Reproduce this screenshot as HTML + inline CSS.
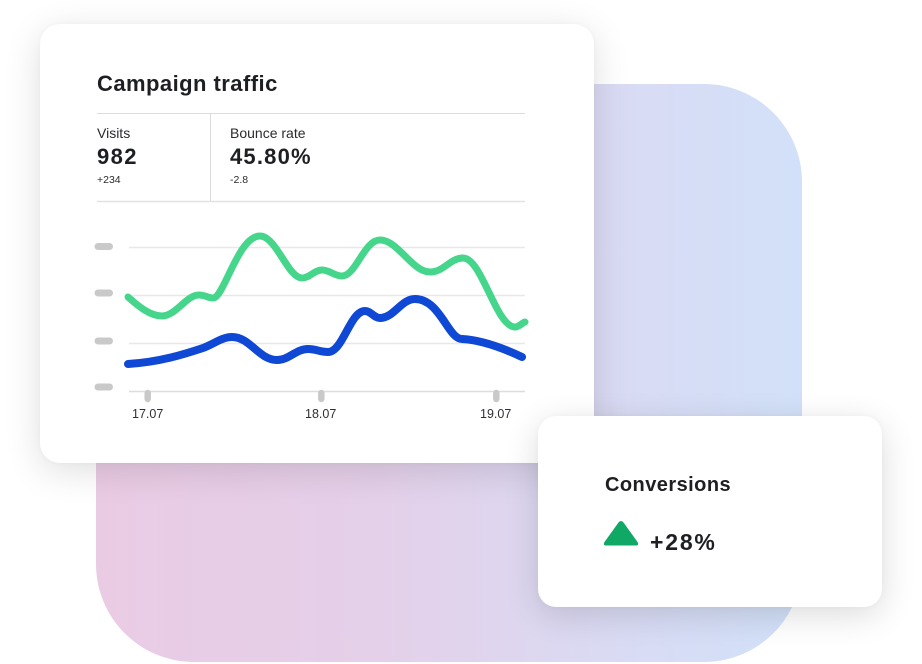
<!DOCTYPE html>
<html>
<head>
<meta charset="utf-8">
<style>
  html,body{margin:0;padding:0;}
  body{width:922px;height:664px;position:relative;overflow:hidden;background:#ffffff;font-family:"Liberation Sans",Arial,sans-serif;color:#1e1f23;}
  .bgshape{position:absolute;left:96px;top:84px;width:706px;height:578px;border-radius:98px;
    background:linear-gradient(90deg,#eacbe4 0%,#e4d0e9 40%,#d9dbf4 75%,#d2e1f9 100%);}
  .card{position:absolute;background:#fff;}
  .main{left:40px;top:24px;width:554px;height:439px;border-radius:20px;box-shadow:0 8px 36px rgba(0,0,0,0.13),0 0 6px rgba(0,0,0,0.03);}
  .conv{left:538px;top:416px;width:344px;height:191px;border-radius:18px;box-shadow:0 8px 34px rgba(0,0,0,0.14),0 0 6px rgba(0,0,0,0.03);}
  .t{position:absolute;white-space:nowrap;line-height:1;}
</style>
</head>
<body>
<div class="bgshape"></div>

<div class="card main"></div>
<div class="card conv"></div>

<!-- main card text -->
<div class="t" style="left:97px;top:73px;font-size:22px;font-weight:bold;letter-spacing:0.45px;">Campaign traffic</div>
<div class="t" style="left:97px;top:126px;font-size:14px;color:#2a2b2f;">Visits</div>
<div class="t" style="left:97px;top:146px;font-size:22px;font-weight:bold;letter-spacing:1.4px;">982</div>
<div class="t" style="left:97px;top:175px;font-size:10.5px;color:#2a2b2f;">+234</div>
<div class="t" style="left:230px;top:126px;font-size:14px;color:#2a2b2f;">Bounce rate</div>
<div class="t" style="left:230px;top:146px;font-size:22px;font-weight:bold;letter-spacing:1.2px;">45.80%</div>
<div class="t" style="left:230px;top:175px;font-size:10.5px;color:#2a2b2f;">-2.8</div>

<svg style="position:absolute;left:0;top:0" width="922" height="664" viewBox="0 0 922 664">
  <!-- dividers -->
  <line x1="97" y1="113.5" x2="525" y2="113.5" stroke="#dcdcdc" stroke-width="1"/>
  <line x1="97" y1="201.5" x2="525" y2="201.5" stroke="#e2e2e2" stroke-width="1.5"/>
  <line x1="210.5" y1="113" x2="210.5" y2="201" stroke="#dcdcdc" stroke-width="1"/>

  <!-- gridlines -->
  <line x1="129" y1="247.5" x2="525" y2="247.5" stroke="#e8e8e8" stroke-width="1.5"/>
  <line x1="129" y1="295.5" x2="525" y2="295.5" stroke="#e8e8e8" stroke-width="1.5"/>
  <line x1="129" y1="343.5" x2="525" y2="343.5" stroke="#e8e8e8" stroke-width="1.5"/>
  <line x1="129" y1="391.5" x2="525" y2="391.5" stroke="#dddddd" stroke-width="1.5"/>

  <!-- y pills -->
  <g stroke="#c9c9c9" stroke-width="7" stroke-linecap="round">
    <line x1="98" y1="246.5" x2="109.5" y2="246.5"/>
    <line x1="98" y1="293" x2="109.5" y2="293"/>
    <line x1="98" y1="341" x2="109.5" y2="341"/>
    <line x1="98" y1="387" x2="109.5" y2="387"/>
  </g>
  <!-- x tick pills -->
  <g stroke="#c9c9c9" stroke-width="6.5" stroke-linecap="round">
    <line x1="147.7" y1="393" x2="147.7" y2="399"/>
    <line x1="321.3" y1="393" x2="321.3" y2="399"/>
    <line x1="496.3" y1="393" x2="496.3" y2="399"/>
  </g>

  <!-- green series -->
  <path d="M128,297 C138,306 150,316 162,316 C176,316 186,295 199,295 C205,295 208,298 213,298 C224,298 238,236 260,236 C276,236 288,278 302,278 C310,278 314,270 322,270 C330,270 334,276 342,276 C356,276 364,240 380,240 C398,240 412,272 430,272 C444,272 450,258 463,258 C482,258 496,327 515,327 C519,327 522,323 525,322"
        fill="none" stroke="#45d68b" stroke-width="7" stroke-linecap="round" stroke-linejoin="round"/>
  <!-- blue series -->
  <path d="M128,364 C160,362 185,354 203,348 C213,344.5 222,337 232,337 C250,337 259,360 277,360 C289,360 296,349 308,349 C316,349 320,352 328,352 C343,352 350,311 365,311 C371,311 374,318 380,318 C394,318 401,299 415,299 C440,299 448,339 462,339 C482,340 505,349 522,357"
        fill="none" stroke="#0f48d4" stroke-width="8" stroke-linecap="round" stroke-linejoin="round"/>

  <!-- conversions triangle -->
  <path d="M618.5,522.5 Q621,519.5 623.5,522.5 L637.5,542 Q639.5,545.5 635.5,545.5 L606.5,545.5 Q602.5,545.5 604.5,542 Z" fill="#0fa864"/>
</svg>

<!-- x labels -->
<div class="t" style="left:132px;top:408px;font-size:12.5px;color:#2f3034;">17.07</div>
<div class="t" style="left:305px;top:408px;font-size:12.5px;color:#2f3034;">18.07</div>
<div class="t" style="left:480px;top:408px;font-size:12.5px;color:#2f3034;">19.07</div>

<!-- conversions -->
<div class="t" style="left:605px;top:475px;font-size:20px;font-weight:bold;letter-spacing:0.45px;">Conversions</div>
<div class="t" style="left:650px;top:531px;font-size:23px;font-weight:bold;letter-spacing:1.8px;">+28%</div>
</body>
</html>
